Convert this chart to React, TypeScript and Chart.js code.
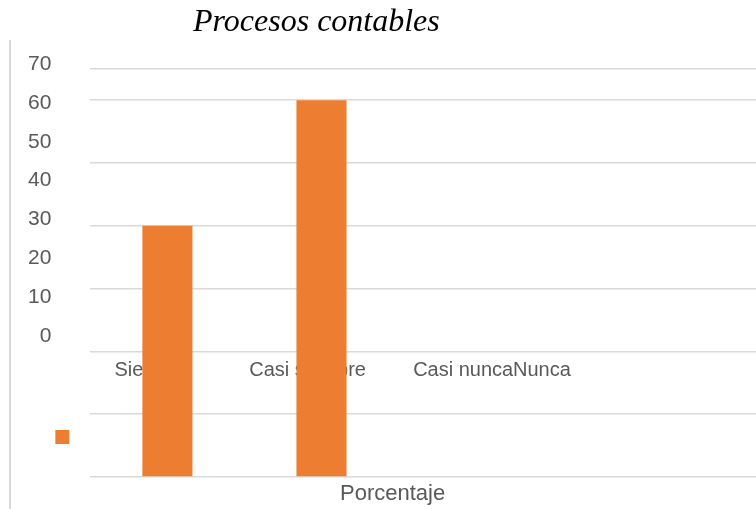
import React, { useEffect, useRef } from 'react';
import { Chart, registerables } from 'chart.js';

Chart.register(...registerables);

// ---- data ----
const chartTitle = 'Procesos contables';
const seriesName = 'Porcentaje';
const categories = ['Siempre', 'Casi siempre', 'Casi nunca', 'Nunca'];
const porcentaje = [40, 60, 0, 0];
const yTickLabels = [0, 10, 20, 30, 40, 50, 60, 70];
const gridTicks = [0, 10, 20, 30, 40, 50, 60, 65];

const FONT = "'Liberation Sans', Arial, sans-serif";
const TEXT = '#595959';
const GRID = '#d9d9d9';
const ORANGE = '#ED7D31';

export default function App() {
  const ref = useRef<HTMLCanvasElement>(null);

  useEffect(() => {
    if (!ref.current) return;
    // layout-only slots (category-index units) where the category labels sit
    const labelSlots = [-0.344, 0.531, 1.595, 2.243];
    const chart = new Chart(ref.current, {
      type: 'bar',
      data: {
        datasets: [
          {
            label: seriesName,
            data: categories.map((c, i) => ({ x: i, y: porcentaje[i] })),
            backgroundColor: ORANGE,
            borderWidth: 0,
            categoryPercentage: 1,
            barPercentage: 0.325,
            xAxisID: 'x',
            yAxisID: 'y',
          } as any,
        ],
      },
      options: {
        responsive: false,
        animation: false,
        layout: { padding: { left: 25, top: 60, right: 0, bottom: 32 } },
        plugins: {
          title: { display: false },
          tooltip: { enabled: false },
          legend: {
            position: 'left',
            align: 'end',
            fullSize: false,
            weight: -1,
            maxWidth: 36,
            labels: {
              boxWidth: 14,
              boxHeight: 14,
              padding: 1,
              font: { size: 78, family: FONT },
              generateLabels: (c: any) =>
                (Chart.defaults.plugins.legend.labels.generateLabels as any)(c).map((l: any) => ({ ...l, text: '' })),
            },
          } as any,
        },
        scales: {
          x: {
            type: 'linear',
            display: false,
            offset: false,
            min: -0.5,
            max: 3.82,
            afterBuildTicks: (s: any) => {
              s.ticks = categories.map((c, i) => ({ value: i }));
            },
            grid: { offset: false },
          },
          y: {
            type: 'linear',
            position: 'left',
            weight: 0,
            z: 1,
            min: 0,
            max: 66.4,
            afterBuildTicks: (s: any) => {
              s.ticks = gridTicks.map((v) => ({ value: v }));
            },
            ticks: { display: false },
            grid: { color: GRID, lineWidth: 1.5, drawTicks: false },
            border: { display: false },
          },
          yl: {
            type: 'linear',
            position: 'left',
            weight: 10,
            min: -36.34,
            max: 71.06,
            afterBuildTicks: (s: any) => {
              s.ticks = yTickLabels.map((v) => ({ value: v }));
            },
            ticks: { font: { size: 21, family: FONT }, color: TEXT, padding: 3 },
            grid: { display: false, drawTicks: false },
            border: { display: false },
          },
          xl: {
            type: 'linear',
            position: { y: 19.4 } as any,
            offset: false,
            min: -0.5,
            max: 3.82,
            afterBuildTicks: (s: any) => {
              s.ticks = labelSlots.map((v) => ({ value: v }));
            },
            ticks: {
              align: 'start',
              autoSkip: false,
              maxRotation: 0,
              font: { size: 20, family: FONT },
              color: TEXT,
              padding: 3,
              callback: (_v: any, i: number) => categories[i],
            },
            grid: { display: false, drawTicks: false, offset: false },
            border: { display: false },
          },
        } as any,
      },
    });
    return () => chart.destroy();
  }, []);

  return (
    <div style={{ position: 'absolute', left: 0, top: 0, width: 756, height: 509, background: '#fff', overflow: 'hidden' }}>
      <canvas ref={ref} width={756} height={509} style={{ position: 'absolute', left: 0, top: 0 }} />
      <div style={{ position: 'absolute', left: 9, top: 40, width: 2, height: 469, background: GRID }} />
      <div
        style={{
          position: 'absolute',
          left: 193,
          top: 2,
          font: "italic 32px 'Liberation Serif', 'Times New Roman', serif",
          color: '#000',
          whiteSpace: 'nowrap',
        }}
      >
        {chartTitle}
      </div>
      <div
        style={{
          position: 'absolute',
          left: 340,
          top: 480,
          font: `22px ${FONT}`,
          color: TEXT,
          whiteSpace: 'nowrap',
        }}
      >
        {seriesName}
      </div>
    </div>
  );
}
